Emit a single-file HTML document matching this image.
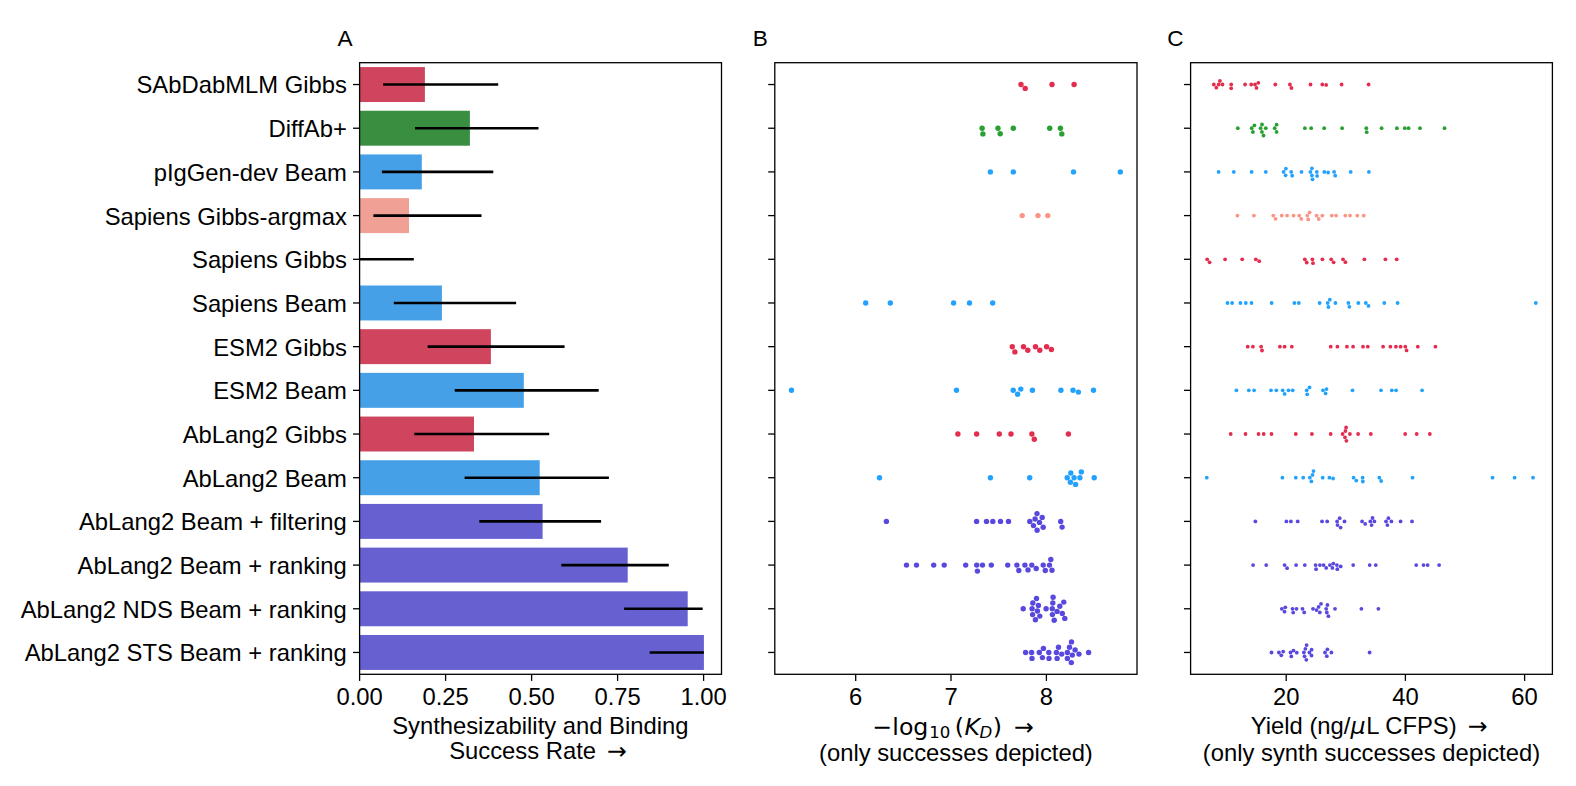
<!DOCTYPE html>
<html lang="en"><head><meta charset="utf-8">
<title>Synthesizability and binding success rate, affinity and yield by method</title>
<style>
html,body{margin:0;padding:0;background:#fff;}
body{width:1576px;height:786px;overflow:hidden;}
svg{display:block;}
text{font-family:"Liberation Sans", sans-serif;font-size:23.80px;fill:#000;}
.dj{font-family:"DejaVu Sans", "Liberation Sans", sans-serif;font-size:23.67px;}
.it{font-style:italic;}
.dj.sub{font-size:16.57px;}
.ttl{font-size:22.60px;}
.sp{fill:none;stroke:#000;stroke-width:1.30;}
.tk{stroke:#000;stroke-width:1.30;}
.er{stroke:#000;stroke-width:2.60;}
</style></head><body>
<svg role="img" aria-label="Three-panel figure" width="1576" height="786" viewBox="0 0 1576 786">
<rect x="0" y="0" width="1576" height="786" fill="#fff"/>
<g id="panelA">
<rect x="359.60" y="67.07" width="65.30" height="34.95" fill="#CF455E"/>
<rect x="359.60" y="110.75" width="110.30" height="34.95" fill="#3A8E40"/>
<rect x="359.60" y="154.44" width="62.20" height="34.95" fill="#46A0E8"/>
<rect x="359.60" y="198.13" width="49.40" height="34.95" fill="#F0A094"/>
<rect x="359.60" y="285.50" width="82.30" height="34.95" fill="#46A0E8"/>
<rect x="359.60" y="329.18" width="131.30" height="34.95" fill="#CF455E"/>
<rect x="359.60" y="372.87" width="164.20" height="34.95" fill="#46A0E8"/>
<rect x="359.60" y="416.55" width="114.40" height="34.95" fill="#CF455E"/>
<rect x="359.60" y="460.24" width="180.10" height="34.95" fill="#46A0E8"/>
<rect x="359.60" y="503.93" width="183.00" height="34.95" fill="#6660D0"/>
<rect x="359.60" y="547.61" width="268.10" height="34.95" fill="#6660D0"/>
<rect x="359.60" y="591.30" width="328.10" height="34.95" fill="#6660D0"/>
<rect x="359.60" y="634.98" width="344.30" height="34.95" fill="#6660D0"/>
<line class="er" x1="383.10" y1="84.54" x2="498.20" y2="84.54"/>
<line class="er" x1="415.00" y1="128.23" x2="538.50" y2="128.23"/>
<line class="er" x1="381.90" y1="171.91" x2="493.30" y2="171.91"/>
<line class="er" x1="373.40" y1="215.60" x2="481.50" y2="215.60"/>
<line class="er" x1="359.60" y1="259.29" x2="413.80" y2="259.29"/>
<line class="er" x1="393.80" y1="302.97" x2="516.10" y2="302.97"/>
<line class="er" x1="427.60" y1="346.66" x2="564.60" y2="346.66"/>
<line class="er" x1="454.70" y1="390.34" x2="598.70" y2="390.34"/>
<line class="er" x1="414.30" y1="434.03" x2="549.20" y2="434.03"/>
<line class="er" x1="464.60" y1="477.71" x2="608.90" y2="477.71"/>
<line class="er" x1="479.30" y1="521.40" x2="601.10" y2="521.40"/>
<line class="er" x1="561.30" y1="565.09" x2="668.80" y2="565.09"/>
<line class="er" x1="624.10" y1="608.77" x2="702.70" y2="608.77"/>
<line class="er" x1="649.70" y1="652.46" x2="703.90" y2="652.46"/>
</g>
<g id="frameA">
<line class="tk" x1="353.00" y1="84.54" x2="359.60" y2="84.54"/>
<line class="tk" x1="353.00" y1="128.23" x2="359.60" y2="128.23"/>
<line class="tk" x1="353.00" y1="171.91" x2="359.60" y2="171.91"/>
<line class="tk" x1="353.00" y1="215.60" x2="359.60" y2="215.60"/>
<line class="tk" x1="353.00" y1="259.29" x2="359.60" y2="259.29"/>
<line class="tk" x1="353.00" y1="302.97" x2="359.60" y2="302.97"/>
<line class="tk" x1="353.00" y1="346.66" x2="359.60" y2="346.66"/>
<line class="tk" x1="353.00" y1="390.34" x2="359.60" y2="390.34"/>
<line class="tk" x1="353.00" y1="434.03" x2="359.60" y2="434.03"/>
<line class="tk" x1="353.00" y1="477.71" x2="359.60" y2="477.71"/>
<line class="tk" x1="353.00" y1="521.40" x2="359.60" y2="521.40"/>
<line class="tk" x1="353.00" y1="565.09" x2="359.60" y2="565.09"/>
<line class="tk" x1="353.00" y1="608.77" x2="359.60" y2="608.77"/>
<line class="tk" x1="353.00" y1="652.46" x2="359.60" y2="652.46"/>
<line class="tk" x1="359.60" y1="674.30" x2="359.60" y2="680.90"/>
<text x="359.60" y="704.60" text-anchor="middle">0.00</text>
<line class="tk" x1="445.60" y1="674.30" x2="445.60" y2="680.90"/>
<text x="445.60" y="704.60" text-anchor="middle">0.25</text>
<line class="tk" x1="531.60" y1="674.30" x2="531.60" y2="680.90"/>
<text x="531.60" y="704.60" text-anchor="middle">0.50</text>
<line class="tk" x1="617.60" y1="674.30" x2="617.60" y2="680.90"/>
<text x="617.60" y="704.60" text-anchor="middle">0.75</text>
<line class="tk" x1="703.60" y1="674.30" x2="703.60" y2="680.90"/>
<text x="703.60" y="704.60" text-anchor="middle">1.00</text>
<rect class="sp" x="359.60" y="62.70" width="361.90" height="611.60"/>
</g>
<g id="ylabelsA">
<text x="346.80" y="93.44" text-anchor="end">SAbDabMLM Gibbs</text>
<text x="346.80" y="137.13" text-anchor="end">DiffAb+</text>
<text x="346.80" y="180.81" text-anchor="end">pIgGen-dev Beam</text>
<text x="346.80" y="224.50" text-anchor="end">Sapiens Gibbs-argmax</text>
<text x="346.80" y="268.19" text-anchor="end">Sapiens Gibbs</text>
<text x="346.80" y="311.87" text-anchor="end">Sapiens Beam</text>
<text x="346.80" y="355.56" text-anchor="end">ESM2 Gibbs</text>
<text x="346.80" y="399.24" text-anchor="end">ESM2 Beam</text>
<text x="346.80" y="442.93" text-anchor="end">AbLang2 Gibbs</text>
<text x="346.80" y="486.61" text-anchor="end">AbLang2 Beam</text>
<text x="346.80" y="530.30" text-anchor="end">AbLang2 Beam + filtering</text>
<text x="346.80" y="573.99" text-anchor="end">AbLang2 Beam + ranking</text>
<text x="346.80" y="617.67" text-anchor="end">AbLang2 NDS Beam + ranking</text>
<text x="346.80" y="661.36" text-anchor="end">AbLang2 STS Beam + ranking</text>
</g>
<g id="frameB">
<line class="tk" x1="768.20" y1="84.54" x2="774.80" y2="84.54"/>
<line class="tk" x1="768.20" y1="128.23" x2="774.80" y2="128.23"/>
<line class="tk" x1="768.20" y1="171.91" x2="774.80" y2="171.91"/>
<line class="tk" x1="768.20" y1="215.60" x2="774.80" y2="215.60"/>
<line class="tk" x1="768.20" y1="259.29" x2="774.80" y2="259.29"/>
<line class="tk" x1="768.20" y1="302.97" x2="774.80" y2="302.97"/>
<line class="tk" x1="768.20" y1="346.66" x2="774.80" y2="346.66"/>
<line class="tk" x1="768.20" y1="390.34" x2="774.80" y2="390.34"/>
<line class="tk" x1="768.20" y1="434.03" x2="774.80" y2="434.03"/>
<line class="tk" x1="768.20" y1="477.71" x2="774.80" y2="477.71"/>
<line class="tk" x1="768.20" y1="521.40" x2="774.80" y2="521.40"/>
<line class="tk" x1="768.20" y1="565.09" x2="774.80" y2="565.09"/>
<line class="tk" x1="768.20" y1="608.77" x2="774.80" y2="608.77"/>
<line class="tk" x1="768.20" y1="652.46" x2="774.80" y2="652.46"/>
<line class="tk" x1="855.70" y1="674.30" x2="855.70" y2="680.90"/>
<text x="855.70" y="704.60" text-anchor="middle">6</text>
<line class="tk" x1="951.00" y1="674.30" x2="951.00" y2="680.90"/>
<text x="951.00" y="704.60" text-anchor="middle">7</text>
<line class="tk" x1="1046.40" y1="674.30" x2="1046.40" y2="680.90"/>
<text x="1046.40" y="704.60" text-anchor="middle">8</text>
<rect class="sp" x="774.80" y="62.70" width="362.20" height="611.60"/>
</g>
<g id="frameC">
<line class="tk" x1="1184.00" y1="84.54" x2="1190.60" y2="84.54"/>
<line class="tk" x1="1184.00" y1="128.23" x2="1190.60" y2="128.23"/>
<line class="tk" x1="1184.00" y1="171.91" x2="1190.60" y2="171.91"/>
<line class="tk" x1="1184.00" y1="215.60" x2="1190.60" y2="215.60"/>
<line class="tk" x1="1184.00" y1="259.29" x2="1190.60" y2="259.29"/>
<line class="tk" x1="1184.00" y1="302.97" x2="1190.60" y2="302.97"/>
<line class="tk" x1="1184.00" y1="346.66" x2="1190.60" y2="346.66"/>
<line class="tk" x1="1184.00" y1="390.34" x2="1190.60" y2="390.34"/>
<line class="tk" x1="1184.00" y1="434.03" x2="1190.60" y2="434.03"/>
<line class="tk" x1="1184.00" y1="477.71" x2="1190.60" y2="477.71"/>
<line class="tk" x1="1184.00" y1="521.40" x2="1190.60" y2="521.40"/>
<line class="tk" x1="1184.00" y1="565.09" x2="1190.60" y2="565.09"/>
<line class="tk" x1="1184.00" y1="608.77" x2="1190.60" y2="608.77"/>
<line class="tk" x1="1184.00" y1="652.46" x2="1190.60" y2="652.46"/>
<line class="tk" x1="1286.20" y1="674.30" x2="1286.20" y2="680.90"/>
<text x="1286.20" y="704.60" text-anchor="middle">20</text>
<line class="tk" x1="1405.40" y1="674.30" x2="1405.40" y2="680.90"/>
<text x="1405.40" y="704.60" text-anchor="middle">40</text>
<line class="tk" x1="1524.60" y1="674.30" x2="1524.60" y2="680.90"/>
<text x="1524.60" y="704.60" text-anchor="middle">60</text>
<rect class="sp" x="1190.60" y="62.70" width="361.80" height="611.60"/>
</g>
<g id="dotsB">
<g fill="#E42D4E">
<circle cx="1021.0" cy="84.5" r="2.70"/>
<circle cx="1025.2" cy="88.4" r="2.70"/>
<circle cx="1052.0" cy="84.5" r="2.70"/>
<circle cx="1074.1" cy="84.5" r="2.70"/>
</g>
<g fill="#28A032">
<circle cx="982.1" cy="128.2" r="2.70"/>
<circle cx="982.9" cy="133.9" r="2.70"/>
<circle cx="998.0" cy="128.2" r="2.70"/>
<circle cx="1000.2" cy="133.7" r="2.70"/>
<circle cx="1013.3" cy="128.2" r="2.70"/>
<circle cx="1049.7" cy="128.2" r="2.70"/>
<circle cx="1060.4" cy="128.2" r="2.70"/>
<circle cx="1061.8" cy="133.9" r="2.70"/>
</g>
<g fill="#22A2FC">
<circle cx="990.4" cy="171.9" r="2.70"/>
<circle cx="1013.3" cy="171.9" r="2.70"/>
<circle cx="1073.5" cy="171.9" r="2.70"/>
<circle cx="1120.3" cy="171.9" r="2.70"/>
</g>
<g fill="#FC9484">
<circle cx="1022.2" cy="215.6" r="2.70"/>
<circle cx="1038.0" cy="215.6" r="2.70"/>
<circle cx="1047.8" cy="215.6" r="2.70"/>
</g>
<g fill="#22A2FC">
<circle cx="865.7" cy="303.0" r="2.70"/>
<circle cx="890.3" cy="303.0" r="2.70"/>
<circle cx="953.6" cy="303.0" r="2.70"/>
<circle cx="969.5" cy="303.0" r="2.70"/>
<circle cx="992.7" cy="303.0" r="2.70"/>
</g>
<g fill="#E42D4E">
<circle cx="1012.3" cy="346.7" r="2.70"/>
<circle cx="1014.9" cy="351.9" r="2.70"/>
<circle cx="1023.5" cy="346.7" r="2.70"/>
<circle cx="1027.8" cy="350.3" r="2.70"/>
<circle cx="1035.5" cy="346.7" r="2.70"/>
<circle cx="1039.8" cy="350.3" r="2.70"/>
<circle cx="1046.6" cy="346.7" r="2.70"/>
<circle cx="1051.4" cy="349.5" r="2.70"/>
</g>
<g fill="#22A2FC">
<circle cx="791.5" cy="390.3" r="2.70"/>
<circle cx="956.5" cy="390.3" r="2.70"/>
<circle cx="1013.2" cy="390.3" r="2.70"/>
<circle cx="1017.6" cy="394.2" r="2.70"/>
<circle cx="1020.8" cy="389.1" r="2.70"/>
<circle cx="1032.4" cy="390.3" r="2.70"/>
<circle cx="1060.9" cy="390.3" r="2.70"/>
<circle cx="1073.0" cy="390.3" r="2.70"/>
<circle cx="1078.4" cy="392.1" r="2.70"/>
<circle cx="1093.5" cy="390.3" r="2.70"/>
</g>
<g fill="#E42D4E">
<circle cx="957.9" cy="434.0" r="2.70"/>
<circle cx="976.6" cy="434.0" r="2.70"/>
<circle cx="999.3" cy="434.0" r="2.70"/>
<circle cx="1011.0" cy="434.0" r="2.70"/>
<circle cx="1031.9" cy="434.0" r="2.70"/>
<circle cx="1034.3" cy="439.3" r="2.70"/>
<circle cx="1068.4" cy="434.0" r="2.70"/>
</g>
<g fill="#22A2FC">
<circle cx="879.5" cy="477.7" r="2.70"/>
<circle cx="990.4" cy="477.7" r="2.70"/>
<circle cx="1029.7" cy="477.7" r="2.70"/>
<circle cx="1067.2" cy="477.7" r="2.70"/>
<circle cx="1070.8" cy="473.0" r="2.70"/>
<circle cx="1070.4" cy="482.3" r="2.70"/>
<circle cx="1074.1" cy="477.7" r="2.70"/>
<circle cx="1075.6" cy="484.4" r="2.70"/>
<circle cx="1079.9" cy="477.7" r="2.70"/>
<circle cx="1081.3" cy="471.9" r="2.70"/>
<circle cx="1094.2" cy="477.7" r="2.70"/>
</g>
<g fill="#5848DE">
<circle cx="886.4" cy="521.4" r="2.70"/>
<circle cx="976.6" cy="521.4" r="2.70"/>
<circle cx="986.5" cy="521.4" r="2.70"/>
<circle cx="992.8" cy="521.4" r="2.70"/>
<circle cx="1000.5" cy="521.4" r="2.70"/>
<circle cx="1008.5" cy="521.4" r="2.70"/>
<circle cx="1029.8" cy="521.4" r="2.70"/>
<circle cx="1033.5" cy="525.6" r="2.70"/>
<circle cx="1035.1" cy="519.0" r="2.70"/>
<circle cx="1037.0" cy="513.6" r="2.70"/>
<circle cx="1037.1" cy="530.3" r="2.70"/>
<circle cx="1039.5" cy="522.4" r="2.70"/>
<circle cx="1042.2" cy="517.4" r="2.70"/>
<circle cx="1043.2" cy="527.2" r="2.70"/>
<circle cx="1060.7" cy="521.4" r="2.70"/>
<circle cx="1062.1" cy="527.1" r="2.70"/>
</g>
<g fill="#5848DE">
<circle cx="906.5" cy="565.1" r="2.70"/>
<circle cx="916.5" cy="565.1" r="2.70"/>
<circle cx="933.7" cy="565.1" r="2.70"/>
<circle cx="944.2" cy="565.1" r="2.70"/>
<circle cx="965.7" cy="565.1" r="2.70"/>
<circle cx="976.7" cy="565.1" r="2.70"/>
<circle cx="977.4" cy="571.1" r="2.70"/>
<circle cx="982.5" cy="565.1" r="2.70"/>
<circle cx="991.3" cy="565.1" r="2.70"/>
<circle cx="1007.7" cy="565.1" r="2.70"/>
<circle cx="1016.9" cy="565.1" r="2.70"/>
<circle cx="1018.8" cy="570.5" r="2.70"/>
<circle cx="1024.9" cy="565.1" r="2.70"/>
<circle cx="1028.0" cy="569.9" r="2.70"/>
<circle cx="1031.8" cy="565.1" r="2.70"/>
<circle cx="1036.2" cy="568.5" r="2.70"/>
<circle cx="1043.2" cy="565.1" r="2.70"/>
<circle cx="1045.3" cy="570.5" r="2.70"/>
<circle cx="1049.5" cy="565.1" r="2.70"/>
<circle cx="1050.8" cy="559.5" r="2.70"/>
<circle cx="1052.0" cy="570.3" r="2.70"/>
</g>
<g fill="#5848DE">
<circle cx="1023.2" cy="608.8" r="2.70"/>
<circle cx="1032.1" cy="608.8" r="2.70"/>
<circle cx="1032.8" cy="603.0" r="2.70"/>
<circle cx="1032.6" cy="614.6" r="2.70"/>
<circle cx="1035.4" cy="619.8" r="2.70"/>
<circle cx="1036.5" cy="598.5" r="2.70"/>
<circle cx="1037.4" cy="611.0" r="2.70"/>
<circle cx="1038.4" cy="605.4" r="2.70"/>
<circle cx="1039.8" cy="616.1" r="2.70"/>
<circle cx="1046.1" cy="608.8" r="2.70"/>
<circle cx="1052.3" cy="608.8" r="2.70"/>
<circle cx="1052.8" cy="603.0" r="2.70"/>
<circle cx="1053.1" cy="597.3" r="2.70"/>
<circle cx="1052.4" cy="614.6" r="2.70"/>
<circle cx="1054.2" cy="620.3" r="2.70"/>
<circle cx="1057.1" cy="611.4" r="2.70"/>
<circle cx="1059.8" cy="606.3" r="2.70"/>
<circle cx="1062.3" cy="613.4" r="2.70"/>
<circle cx="1063.8" cy="602.1" r="2.70"/>
<circle cx="1064.8" cy="618.4" r="2.70"/>
</g>
<g fill="#5848DE">
<circle cx="1025.6" cy="652.5" r="2.70"/>
<circle cx="1031.6" cy="652.5" r="2.70"/>
<circle cx="1032.0" cy="658.4" r="2.70"/>
<circle cx="1039.3" cy="652.5" r="2.70"/>
<circle cx="1043.4" cy="648.4" r="2.70"/>
<circle cx="1042.4" cy="657.6" r="2.70"/>
<circle cx="1048.8" cy="652.5" r="2.70"/>
<circle cx="1049.0" cy="658.4" r="2.70"/>
<circle cx="1056.4" cy="652.5" r="2.70"/>
<circle cx="1058.5" cy="647.3" r="2.70"/>
<circle cx="1057.1" cy="658.4" r="2.70"/>
<circle cx="1061.7" cy="654.1" r="2.70"/>
<circle cx="1067.4" cy="652.5" r="2.70"/>
<circle cx="1069.5" cy="647.3" r="2.70"/>
<circle cx="1071.5" cy="641.9" r="2.70"/>
<circle cx="1067.4" cy="658.4" r="2.70"/>
<circle cx="1071.3" cy="662.6" r="2.70"/>
<circle cx="1072.3" cy="655.1" r="2.70"/>
<circle cx="1075.1" cy="649.9" r="2.70"/>
<circle cx="1079.0" cy="654.1" r="2.70"/>
<circle cx="1088.6" cy="652.5" r="2.70"/>
</g>
</g>
<g id="dotsC">
<g fill="#E42D4E">
<circle cx="1213.8" cy="84.5" r="1.90"/>
<circle cx="1216.3" cy="87.7" r="1.90"/>
<circle cx="1218.7" cy="84.5" r="1.90"/>
<circle cx="1219.9" cy="80.9" r="1.90"/>
<circle cx="1222.5" cy="84.5" r="1.90"/>
<circle cx="1231.2" cy="84.5" r="1.90"/>
<circle cx="1231.2" cy="88.3" r="1.90"/>
<circle cx="1245.1" cy="84.5" r="1.90"/>
<circle cx="1251.2" cy="84.5" r="1.90"/>
<circle cx="1255.0" cy="84.5" r="1.90"/>
<circle cx="1256.5" cy="87.9" r="1.90"/>
<circle cx="1258.3" cy="82.8" r="1.90"/>
<circle cx="1275.3" cy="84.5" r="1.90"/>
<circle cx="1289.9" cy="84.5" r="1.90"/>
<circle cx="1291.4" cy="88.0" r="1.90"/>
<circle cx="1310.5" cy="84.5" r="1.90"/>
<circle cx="1322.3" cy="84.5" r="1.90"/>
<circle cx="1326.2" cy="84.9" r="1.90"/>
<circle cx="1341.6" cy="84.5" r="1.90"/>
<circle cx="1368.6" cy="84.5" r="1.90"/>
</g>
<g fill="#28A032">
<circle cx="1237.8" cy="128.2" r="1.90"/>
<circle cx="1251.7" cy="128.2" r="1.90"/>
<circle cx="1252.9" cy="132.0" r="1.90"/>
<circle cx="1254.4" cy="125.4" r="1.90"/>
<circle cx="1260.6" cy="128.2" r="1.90"/>
<circle cx="1262.0" cy="124.5" r="1.90"/>
<circle cx="1261.9" cy="131.9" r="1.90"/>
<circle cx="1263.5" cy="135.5" r="1.90"/>
<circle cx="1265.8" cy="128.2" r="1.90"/>
<circle cx="1274.7" cy="128.2" r="1.90"/>
<circle cx="1276.6" cy="124.7" r="1.90"/>
<circle cx="1276.6" cy="131.9" r="1.90"/>
<circle cx="1304.9" cy="128.2" r="1.90"/>
<circle cx="1311.2" cy="128.2" r="1.90"/>
<circle cx="1324.2" cy="128.2" r="1.90"/>
<circle cx="1342.1" cy="128.2" r="1.90"/>
<circle cx="1366.3" cy="128.2" r="1.90"/>
<circle cx="1366.7" cy="132.2" r="1.90"/>
<circle cx="1381.6" cy="128.2" r="1.90"/>
<circle cx="1396.9" cy="128.2" r="1.90"/>
<circle cx="1404.8" cy="128.2" r="1.90"/>
<circle cx="1408.6" cy="128.2" r="1.90"/>
<circle cx="1420.0" cy="128.2" r="1.90"/>
<circle cx="1444.5" cy="128.2" r="1.90"/>
</g>
<g fill="#22A2FC">
<circle cx="1218.6" cy="171.9" r="1.90"/>
<circle cx="1233.8" cy="171.9" r="1.90"/>
<circle cx="1251.6" cy="171.9" r="1.90"/>
<circle cx="1265.8" cy="171.9" r="1.90"/>
<circle cx="1283.6" cy="171.9" r="1.90"/>
<circle cx="1285.9" cy="168.7" r="1.90"/>
<circle cx="1285.6" cy="175.3" r="1.90"/>
<circle cx="1291.2" cy="171.9" r="1.90"/>
<circle cx="1292.2" cy="175.7" r="1.90"/>
<circle cx="1301.5" cy="171.9" r="1.90"/>
<circle cx="1310.4" cy="171.9" r="1.90"/>
<circle cx="1311.9" cy="168.3" r="1.90"/>
<circle cx="1311.9" cy="175.5" r="1.90"/>
<circle cx="1312.5" cy="179.3" r="1.90"/>
<circle cx="1316.8" cy="171.9" r="1.90"/>
<circle cx="1317.1" cy="175.9" r="1.90"/>
<circle cx="1324.3" cy="171.9" r="1.90"/>
<circle cx="1328.1" cy="172.5" r="1.90"/>
<circle cx="1334.1" cy="171.9" r="1.90"/>
<circle cx="1335.2" cy="175.7" r="1.90"/>
<circle cx="1350.7" cy="171.9" r="1.90"/>
<circle cx="1368.9" cy="171.9" r="1.90"/>
</g>
<g fill="#FC9484">
<circle cx="1237.4" cy="215.6" r="1.90"/>
<circle cx="1253.9" cy="215.6" r="1.90"/>
<circle cx="1273.3" cy="215.6" r="1.90"/>
<circle cx="1275.6" cy="218.8" r="1.90"/>
<circle cx="1281.7" cy="215.6" r="1.90"/>
<circle cx="1287.1" cy="215.6" r="1.90"/>
<circle cx="1293.6" cy="215.6" r="1.90"/>
<circle cx="1299.2" cy="215.6" r="1.90"/>
<circle cx="1301.3" cy="218.9" r="1.90"/>
<circle cx="1307.3" cy="215.6" r="1.90"/>
<circle cx="1309.6" cy="212.4" r="1.90"/>
<circle cx="1308.2" cy="219.4" r="1.90"/>
<circle cx="1316.6" cy="215.6" r="1.90"/>
<circle cx="1318.7" cy="219.0" r="1.90"/>
<circle cx="1322.3" cy="215.6" r="1.90"/>
<circle cx="1331.7" cy="215.6" r="1.90"/>
<circle cx="1336.1" cy="215.6" r="1.90"/>
<circle cx="1345.3" cy="215.6" r="1.90"/>
<circle cx="1350.0" cy="215.6" r="1.90"/>
<circle cx="1357.3" cy="215.6" r="1.90"/>
<circle cx="1363.7" cy="215.6" r="1.90"/>
</g>
<g fill="#E42D4E">
<circle cx="1207.2" cy="259.3" r="1.90"/>
<circle cx="1209.6" cy="262.3" r="1.90"/>
<circle cx="1225.1" cy="259.3" r="1.90"/>
<circle cx="1242.2" cy="259.3" r="1.90"/>
<circle cx="1255.8" cy="259.3" r="1.90"/>
<circle cx="1259.2" cy="261.2" r="1.90"/>
<circle cx="1304.8" cy="259.3" r="1.90"/>
<circle cx="1306.7" cy="262.5" r="1.90"/>
<circle cx="1312.4" cy="259.3" r="1.90"/>
<circle cx="1313.0" cy="263.2" r="1.90"/>
<circle cx="1322.4" cy="259.3" r="1.90"/>
<circle cx="1331.2" cy="259.3" r="1.90"/>
<circle cx="1333.6" cy="262.3" r="1.90"/>
<circle cx="1343.0" cy="259.3" r="1.90"/>
<circle cx="1345.4" cy="262.2" r="1.90"/>
<circle cx="1364.4" cy="259.3" r="1.90"/>
<circle cx="1385.4" cy="259.3" r="1.90"/>
<circle cx="1396.7" cy="259.3" r="1.90"/>
</g>
<g fill="#22A2FC">
<circle cx="1227.5" cy="303.0" r="1.90"/>
<circle cx="1232.1" cy="303.0" r="1.90"/>
<circle cx="1240.4" cy="303.0" r="1.90"/>
<circle cx="1245.8" cy="303.0" r="1.90"/>
<circle cx="1251.5" cy="303.0" r="1.90"/>
<circle cx="1271.6" cy="303.0" r="1.90"/>
<circle cx="1294.4" cy="303.0" r="1.90"/>
<circle cx="1298.8" cy="303.0" r="1.90"/>
<circle cx="1319.6" cy="303.0" r="1.90"/>
<circle cx="1327.7" cy="303.0" r="1.90"/>
<circle cx="1329.8" cy="299.7" r="1.90"/>
<circle cx="1328.4" cy="307.0" r="1.90"/>
<circle cx="1335.4" cy="303.0" r="1.90"/>
<circle cx="1348.4" cy="303.0" r="1.90"/>
<circle cx="1349.4" cy="306.8" r="1.90"/>
<circle cx="1358.3" cy="303.0" r="1.90"/>
<circle cx="1365.8" cy="303.0" r="1.90"/>
<circle cx="1368.5" cy="305.9" r="1.90"/>
<circle cx="1384.3" cy="303.0" r="1.90"/>
<circle cx="1397.6" cy="303.0" r="1.90"/>
<circle cx="1535.8" cy="303.0" r="1.90"/>
</g>
<g fill="#E42D4E">
<circle cx="1247.7" cy="346.7" r="1.90"/>
<circle cx="1252.9" cy="346.7" r="1.90"/>
<circle cx="1261.1" cy="346.7" r="1.90"/>
<circle cx="1262.0" cy="350.5" r="1.90"/>
<circle cx="1279.9" cy="346.7" r="1.90"/>
<circle cx="1284.6" cy="346.7" r="1.90"/>
<circle cx="1291.8" cy="346.7" r="1.90"/>
<circle cx="1330.7" cy="346.7" r="1.90"/>
<circle cx="1337.4" cy="346.7" r="1.90"/>
<circle cx="1346.9" cy="346.7" r="1.90"/>
<circle cx="1353.1" cy="346.7" r="1.90"/>
<circle cx="1363.0" cy="346.7" r="1.90"/>
<circle cx="1367.8" cy="346.7" r="1.90"/>
<circle cx="1383.1" cy="346.7" r="1.90"/>
<circle cx="1390.4" cy="346.7" r="1.90"/>
<circle cx="1395.9" cy="346.7" r="1.90"/>
<circle cx="1400.6" cy="346.7" r="1.90"/>
<circle cx="1405.3" cy="346.7" r="1.90"/>
<circle cx="1406.6" cy="350.4" r="1.90"/>
<circle cx="1417.8" cy="346.7" r="1.90"/>
<circle cx="1435.4" cy="346.7" r="1.90"/>
</g>
<g fill="#22A2FC">
<circle cx="1236.4" cy="390.3" r="1.90"/>
<circle cx="1248.8" cy="390.3" r="1.90"/>
<circle cx="1254.1" cy="390.3" r="1.90"/>
<circle cx="1271.0" cy="390.3" r="1.90"/>
<circle cx="1276.3" cy="390.3" r="1.90"/>
<circle cx="1282.7" cy="390.3" r="1.90"/>
<circle cx="1284.6" cy="393.9" r="1.90"/>
<circle cx="1288.5" cy="390.3" r="1.90"/>
<circle cx="1292.7" cy="390.3" r="1.90"/>
<circle cx="1306.7" cy="390.3" r="1.90"/>
<circle cx="1309.5" cy="387.4" r="1.90"/>
<circle cx="1307.2" cy="394.3" r="1.90"/>
<circle cx="1323.0" cy="390.3" r="1.90"/>
<circle cx="1326.5" cy="389.1" r="1.90"/>
<circle cx="1325.6" cy="393.4" r="1.90"/>
<circle cx="1352.5" cy="390.3" r="1.90"/>
<circle cx="1381.0" cy="390.3" r="1.90"/>
<circle cx="1391.8" cy="390.3" r="1.90"/>
<circle cx="1396.1" cy="390.3" r="1.90"/>
<circle cx="1422.1" cy="390.3" r="1.90"/>
</g>
<g fill="#E42D4E">
<circle cx="1230.7" cy="434.0" r="1.90"/>
<circle cx="1245.5" cy="434.0" r="1.90"/>
<circle cx="1258.5" cy="434.0" r="1.90"/>
<circle cx="1263.7" cy="434.0" r="1.90"/>
<circle cx="1271.5" cy="434.0" r="1.90"/>
<circle cx="1295.8" cy="434.0" r="1.90"/>
<circle cx="1311.9" cy="434.0" r="1.90"/>
<circle cx="1330.7" cy="434.0" r="1.90"/>
<circle cx="1342.6" cy="434.0" r="1.90"/>
<circle cx="1345.4" cy="431.0" r="1.90"/>
<circle cx="1346.1" cy="427.4" r="1.90"/>
<circle cx="1345.0" cy="437.3" r="1.90"/>
<circle cx="1346.4" cy="440.8" r="1.90"/>
<circle cx="1349.9" cy="434.0" r="1.90"/>
<circle cx="1358.1" cy="434.0" r="1.90"/>
<circle cx="1370.8" cy="434.0" r="1.90"/>
<circle cx="1405.2" cy="434.0" r="1.90"/>
<circle cx="1416.7" cy="434.0" r="1.90"/>
<circle cx="1429.8" cy="434.0" r="1.90"/>
</g>
<g fill="#22A2FC">
<circle cx="1206.8" cy="477.7" r="1.90"/>
<circle cx="1282.4" cy="477.7" r="1.90"/>
<circle cx="1295.8" cy="477.7" r="1.90"/>
<circle cx="1303.2" cy="477.7" r="1.90"/>
<circle cx="1309.8" cy="477.7" r="1.90"/>
<circle cx="1312.5" cy="474.9" r="1.90"/>
<circle cx="1313.5" cy="471.1" r="1.90"/>
<circle cx="1311.4" cy="481.4" r="1.90"/>
<circle cx="1322.7" cy="477.7" r="1.90"/>
<circle cx="1329.4" cy="477.7" r="1.90"/>
<circle cx="1333.1" cy="478.5" r="1.90"/>
<circle cx="1353.6" cy="477.7" r="1.90"/>
<circle cx="1356.3" cy="480.6" r="1.90"/>
<circle cx="1362.6" cy="477.7" r="1.90"/>
<circle cx="1362.8" cy="481.5" r="1.90"/>
<circle cx="1379.3" cy="477.7" r="1.90"/>
<circle cx="1381.2" cy="481.0" r="1.90"/>
<circle cx="1412.5" cy="477.7" r="1.90"/>
<circle cx="1492.5" cy="477.7" r="1.90"/>
<circle cx="1514.6" cy="477.7" r="1.90"/>
<circle cx="1533.0" cy="477.7" r="1.90"/>
</g>
<g fill="#5848DE">
<circle cx="1255.4" cy="521.4" r="1.90"/>
<circle cx="1286.4" cy="521.4" r="1.90"/>
<circle cx="1290.9" cy="521.4" r="1.90"/>
<circle cx="1297.7" cy="521.4" r="1.90"/>
<circle cx="1322.0" cy="521.4" r="1.90"/>
<circle cx="1327.2" cy="521.4" r="1.90"/>
<circle cx="1337.1" cy="521.4" r="1.90"/>
<circle cx="1339.7" cy="518.2" r="1.90"/>
<circle cx="1337.5" cy="525.1" r="1.90"/>
<circle cx="1340.6" cy="527.6" r="1.90"/>
<circle cx="1344.5" cy="521.4" r="1.90"/>
<circle cx="1362.1" cy="521.4" r="1.90"/>
<circle cx="1365.2" cy="523.9" r="1.90"/>
<circle cx="1370.3" cy="521.4" r="1.90"/>
<circle cx="1372.5" cy="518.0" r="1.90"/>
<circle cx="1371.6" cy="525.1" r="1.90"/>
<circle cx="1374.4" cy="521.4" r="1.90"/>
<circle cx="1386.0" cy="521.4" r="1.90"/>
<circle cx="1388.4" cy="518.2" r="1.90"/>
<circle cx="1387.4" cy="525.1" r="1.90"/>
<circle cx="1391.4" cy="521.4" r="1.90"/>
<circle cx="1400.6" cy="521.4" r="1.90"/>
<circle cx="1412.0" cy="521.4" r="1.90"/>
</g>
<g fill="#5848DE">
<circle cx="1253.1" cy="565.1" r="1.90"/>
<circle cx="1266.2" cy="565.1" r="1.90"/>
<circle cx="1284.6" cy="565.1" r="1.90"/>
<circle cx="1287.1" cy="568.2" r="1.90"/>
<circle cx="1296.1" cy="565.1" r="1.90"/>
<circle cx="1304.8" cy="565.1" r="1.90"/>
<circle cx="1315.6" cy="565.1" r="1.90"/>
<circle cx="1316.1" cy="569.2" r="1.90"/>
<circle cx="1319.9" cy="565.1" r="1.90"/>
<circle cx="1323.6" cy="565.1" r="1.90"/>
<circle cx="1326.2" cy="567.9" r="1.90"/>
<circle cx="1329.9" cy="565.1" r="1.90"/>
<circle cx="1332.4" cy="567.9" r="1.90"/>
<circle cx="1333.3" cy="563.6" r="1.90"/>
<circle cx="1336.9" cy="565.1" r="1.90"/>
<circle cx="1337.3" cy="569.2" r="1.90"/>
<circle cx="1340.7" cy="566.4" r="1.90"/>
<circle cx="1353.2" cy="565.1" r="1.90"/>
<circle cx="1369.7" cy="565.1" r="1.90"/>
<circle cx="1375.8" cy="565.1" r="1.90"/>
<circle cx="1416.2" cy="565.1" r="1.90"/>
<circle cx="1423.5" cy="565.1" r="1.90"/>
<circle cx="1427.6" cy="565.1" r="1.90"/>
<circle cx="1439.1" cy="565.1" r="1.90"/>
</g>
<g fill="#5848DE">
<circle cx="1281.8" cy="608.8" r="1.90"/>
<circle cx="1285.3" cy="607.3" r="1.90"/>
<circle cx="1284.5" cy="611.7" r="1.90"/>
<circle cx="1292.5" cy="608.8" r="1.90"/>
<circle cx="1293.2" cy="612.6" r="1.90"/>
<circle cx="1296.5" cy="608.8" r="1.90"/>
<circle cx="1302.5" cy="608.8" r="1.90"/>
<circle cx="1304.2" cy="612.4" r="1.90"/>
<circle cx="1313.0" cy="608.8" r="1.90"/>
<circle cx="1316.5" cy="610.1" r="1.90"/>
<circle cx="1318.6" cy="606.9" r="1.90"/>
<circle cx="1321.0" cy="603.8" r="1.90"/>
<circle cx="1319.8" cy="612.4" r="1.90"/>
<circle cx="1326.2" cy="608.8" r="1.90"/>
<circle cx="1327.4" cy="605.0" r="1.90"/>
<circle cx="1326.8" cy="612.5" r="1.90"/>
<circle cx="1328.4" cy="616.2" r="1.90"/>
<circle cx="1335.0" cy="608.8" r="1.90"/>
<circle cx="1361.4" cy="608.8" r="1.90"/>
<circle cx="1378.4" cy="608.8" r="1.90"/>
</g>
<g fill="#5848DE">
<circle cx="1271.5" cy="652.5" r="1.90"/>
<circle cx="1278.9" cy="652.5" r="1.90"/>
<circle cx="1281.3" cy="655.3" r="1.90"/>
<circle cx="1283.2" cy="651.6" r="1.90"/>
<circle cx="1290.5" cy="652.5" r="1.90"/>
<circle cx="1291.3" cy="656.4" r="1.90"/>
<circle cx="1293.5" cy="650.6" r="1.90"/>
<circle cx="1296.8" cy="652.7" r="1.90"/>
<circle cx="1303.9" cy="652.5" r="1.90"/>
<circle cx="1305.4" cy="648.8" r="1.90"/>
<circle cx="1306.6" cy="645.1" r="1.90"/>
<circle cx="1304.5" cy="656.3" r="1.90"/>
<circle cx="1306.3" cy="659.8" r="1.90"/>
<circle cx="1309.4" cy="652.5" r="1.90"/>
<circle cx="1311.6" cy="649.7" r="1.90"/>
<circle cx="1311.5" cy="655.5" r="1.90"/>
<circle cx="1325.0" cy="652.5" r="1.90"/>
<circle cx="1327.4" cy="649.3" r="1.90"/>
<circle cx="1326.8" cy="656.2" r="1.90"/>
<circle cx="1331.4" cy="652.5" r="1.90"/>
<circle cx="1369.6" cy="652.5" r="1.90"/>
</g>
</g>
<g id="titles">
<text class="ttl" x="337.6" y="45.9">A</text>
<text class="ttl" x="752.7" y="45.9">B</text>
<text class="ttl" x="1167.3" y="45.9">C</text>
</g>
<g id="xlabels">
<text x="540.3" y="733.7" text-anchor="middle">Synthesizability and Binding</text>
<text x="449.2" y="758.7">Success Rate</text>
<text class="dj" x="606.8" y="758.7">→</text>
<text class="dj" x="872.5" y="734.5">−log</text>
<text class="dj sub" x="929.3" y="738.1">10</text>
<text class="dj" x="954.7" y="734.5">(</text>
<text class="dj it" x="964.4" y="734.5">K</text>
<text class="dj it sub" x="979.6" y="738.1">D</text>
<text class="dj" x="992.8" y="734.5">)</text>
<text class="dj" x="1013.7" y="734.5">→</text>
<text x="955.9" y="760.7" text-anchor="middle">(only successes depicted)</text>
<text x="1250.8" y="734.0">Yield (ng/</text>
<text class="dj it" x="1350.4" y="734.0">μ</text>
<text x="1366.3" y="734.0">L CFPS)</text>
<text class="dj" x="1467.5" y="734.0">→</text>
<text x="1371.5" y="760.7" text-anchor="middle">(only synth successes depicted)</text>
</g>
</svg>
</body></html>
